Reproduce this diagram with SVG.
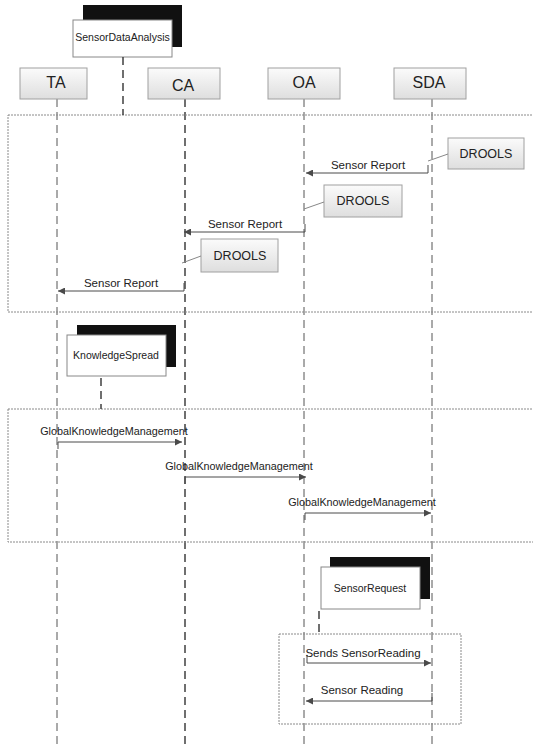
<svg xmlns="http://www.w3.org/2000/svg" width="533" height="747" viewBox="0 0 533 747">
<defs>
<linearGradient id="g" x1="0" y1="0" x2="0" y2="1">
<stop offset="0" stop-color="#fbfbfb"/>
<stop offset="1" stop-color="#dedede"/>
</linearGradient>
<marker id="ah" viewBox="0 0 10 10" refX="10" refY="5" markerWidth="7" markerHeight="7" markerUnits="userSpaceOnUse" orient="auto">
<path d="M0,0 L10,5 L0,10 z" fill="#4a4a4a"/>
</marker>
</defs>
<style>
text{font-family:"Liberation Sans",Arial,sans-serif;fill:#222;}
.hdr{fill:url(#g);stroke:#a0a0a0;stroke-width:1;}
.shadow{fill:#111;}
.wbox{fill:#fff;stroke:#888;stroke-width:1;}
.life{stroke:#555;stroke-width:1;stroke-dasharray:8,5;fill:none;}
.lifed{stroke:#333;stroke-width:1.4;stroke-dasharray:8,5;fill:none;}
.frame{fill:none;stroke:#8a8a8a;stroke-width:1;stroke-dasharray:2,1;}
.msg{stroke:#4a4a4a;stroke-width:1;fill:none;marker-end:url(#ah);}
.tick{stroke:#4a4a4a;stroke-width:1;fill:none;}
.note{stroke:#888;stroke-width:1;fill:none;}
.ml{font-size:11.5px;text-anchor:middle;}
.gk{font-size:10.8px;text-anchor:middle;}
.hl{font-size:16px;text-anchor:middle;}
.dl{font-size:12.5px;text-anchor:middle;}
.fl{font-size:10.5px;text-anchor:middle;}
</style>

<g id="lifelines">
<line class="life" x1="57" y1="99" x2="57" y2="747"/>
<line class="lifed" x1="185" y1="99" x2="185" y2="747"/>
<line class="life" x1="304" y1="99" x2="304" y2="747"/>
<line class="life" x1="432" y1="99" x2="432" y2="747"/>
</g>

<g id="frames">
<rect class="frame" x="8" y="115" width="540" height="197"/>
<rect class="frame" x="8" y="409" width="540" height="133"/>
<rect class="frame" x="279" y="634" width="182" height="90"/>
</g>

<g id="frag-sda">
<rect class="shadow" x="83" y="5" width="99" height="42"/>
<rect class="wbox" x="73" y="20" width="99" height="37"/>
<text class="fl" x="122.5" y="41">SensorDataAnalysis</text>
<line class="lifed" x1="123" y1="57" x2="123" y2="115"/>
</g>

<g id="node-TA">
<rect class="hdr" x="20" y="68" width="67" height="31"/>
<text class="hl" x="56" y="88">TA</text>
</g>
<g id="node-CA">
<rect class="hdr" x="148" y="68" width="72" height="31"/>
<text class="hl" x="183" y="91">CA</text>
</g>
<g id="node-OA">
<rect class="hdr" x="268" y="68" width="72" height="31"/>
<text class="hl" x="304" y="88">OA</text>
</g>
<g id="node-SDA">
<rect class="hdr" x="394" y="68" width="72" height="31"/>
<text class="hl" x="429" y="88">SDA</text>
</g>

<g id="drools-1">
<rect class="hdr" x="448" y="138" width="76" height="31"/>
<text class="dl" x="486" y="158">DROOLS</text>
</g>
<g id="drools-2">
<rect class="hdr" x="324" y="185" width="78" height="32"/>
<text class="dl" x="363" y="205">DROOLS</text>
</g>
<g id="drools-3">
<rect class="hdr" x="201" y="239" width="77" height="33"/>
<text class="dl" x="240" y="260">DROOLS</text>
</g>

<g id="frag-ks">
<rect class="shadow" x="77" y="325" width="99" height="42"/>
<rect class="wbox" x="67" y="335" width="99" height="41"/>
<text class="fl" x="116" y="359">KnowledgeSpread</text>
<line class="lifed" x1="101" y1="378" x2="101" y2="409"/>
</g>

<g id="frag-sr">
<rect class="shadow" x="330" y="557" width="100" height="42"/>
<rect class="wbox" x="321" y="567" width="99" height="42"/>
<text class="fl" x="370" y="592">SensorRequest</text>
<line class="lifed" x1="319" y1="611" x2="319" y2="634"/>
</g>

<g id="connectors">
<line class="note" x1="428" y1="161" x2="448" y2="154"/>
<line class="note" x1="304" y1="209" x2="324" y2="202"/>
<line class="note" x1="182" y1="263" x2="201" y2="256"/>

<line class="tick" x1="428" y1="165" x2="428" y2="173"/>
<line class="msg" x1="428" y1="173" x2="306" y2="173"/>
<text class="ml" x="368" y="169">Sensor Report</text>

<line class="tick" x1="305" y1="224" x2="305" y2="232"/>
<line class="msg" x1="305" y1="232" x2="184" y2="232"/>
<text class="ml" x="245" y="228">Sensor Report</text>

<line class="tick" x1="184" y1="283" x2="184" y2="291"/>
<line class="msg" x1="184" y1="291" x2="58" y2="291"/>
<text class="ml" x="121" y="287">Sensor Report</text>

<line class="tick" x1="58" y1="442" x2="58" y2="449"/>
<line class="msg" x1="58" y1="442" x2="182" y2="442"/>
<text class="gk" x="114" y="435">GlobalKnowledgeManagement</text>

<line class="tick" x1="185" y1="477" x2="185" y2="484"/>
<line class="msg" x1="185" y1="477" x2="306" y2="477"/>
<text class="gk" x="239" y="470">GlobalKnowledgeManagement</text>

<line class="tick" x1="305" y1="513" x2="305" y2="520"/>
<line class="msg" x1="305" y1="513" x2="431" y2="513"/>
<text class="gk" x="362" y="506">GlobalKnowledgeManagement</text>

<line class="tick" x1="307" y1="655" x2="307" y2="663"/>
<line class="msg" x1="307" y1="663" x2="431" y2="663"/>
<text class="ml" x="363" y="657">Sends SensorReading</text>

<line class="tick" x1="432" y1="693" x2="432" y2="701"/>
<line class="msg" x1="432" y1="701" x2="306" y2="701"/>
<text class="ml" x="362" y="694">Sensor Reading</text>
</g>
</svg>
